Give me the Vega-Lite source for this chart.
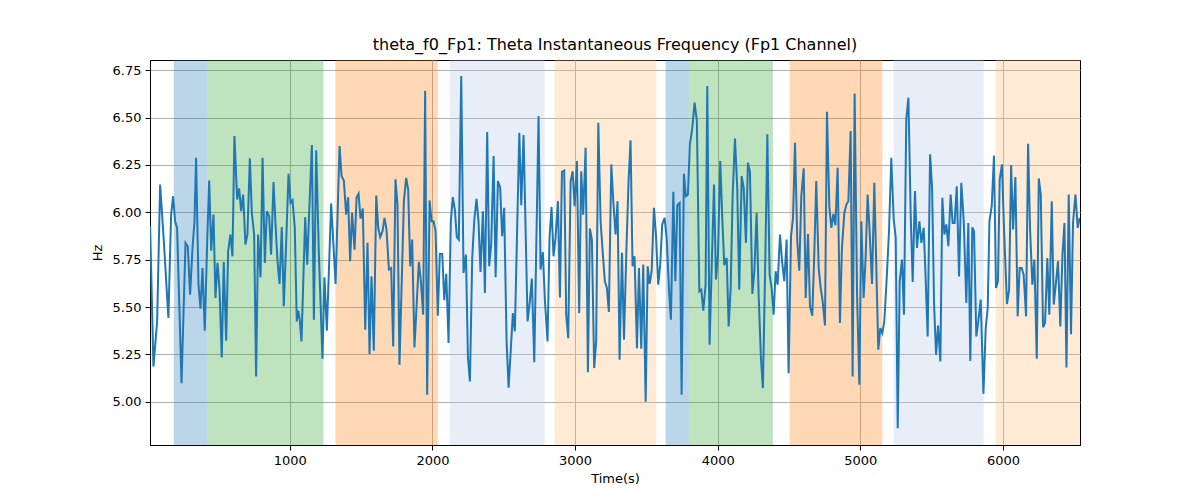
{
  "$schema": "https://vega.github.io/schema/vega-lite/v6.json",
  "width": 930,
  "height": 385,
  "autosize": "none",
  "padding": {"left": 150, "top": 60, "right": 120, "bottom": 55},
  "background": "white",
  "title": {"text": "theta_f0_Fp1: Theta Instantaneous Frequency (Fp1 Channel)", "fontSize": 16, "fontWeight": "normal", "font": "DejaVu Sans", "color": "#000", "offset": 7},
  "datasets": {
    "bands": [
      {"start": 187, "end": 421, "kind": "a"},
      {"start": 421, "end": 1236, "kind": "b"},
      {"start": 1320, "end": 2038, "kind": "c"},
      {"start": 2122, "end": 2786, "kind": "d"},
      {"start": 2856, "end": 3569, "kind": "e"},
      {"start": 3635, "end": 3798, "kind": "a"},
      {"start": 3798, "end": 4387, "kind": "b"},
      {"start": 4504, "end": 5154, "kind": "c"},
      {"start": 5233, "end": 5865, "kind": "d"},
      {"start": 5949, "end": 6540, "kind": "e"}
    ],
    "series": [
      {"t":21,"hz":5.927},{"t":44,"hz":5.186},{"t":70,"hz":5.424},{"t":91,"hz":6.147},{"t":117,"hz":5.847},{"t":149,"hz":5.442},{"t":168,"hz":5.988},{"t":182,"hz":6.085},{"t":196,"hz":5.953},{"t":210,"hz":5.918},{"t":241,"hz":5.098},{"t":269,"hz":5.839},{"t":285,"hz":5.821},{"t":301,"hz":5.565},{"t":318,"hz":5.812},{"t":332,"hz":5.953},{"t":343,"hz":6.288},{"t":360,"hz":5.618},{"t":374,"hz":5.491},{"t":388,"hz":5.706},{"t":404,"hz":5.375},{"t":421,"hz":5.847},{"t":435,"hz":6.168},{"t":449,"hz":5.798},{"t":465,"hz":5.988},{"t":479,"hz":5.548},{"t":493,"hz":5.733},{"t":507,"hz":5.601},{"t":523,"hz":5.234},{"t":537,"hz":5.738},{"t":554,"hz":5.322},{"t":568,"hz":5.795},{"t":584,"hz":5.883},{"t":598,"hz":5.768},{"t":612,"hz":6.403},{"t":631,"hz":6.068},{"t":645,"hz":6.126},{"t":659,"hz":6.006},{"t":673,"hz":6.094},{"t":689,"hz":5.830},{"t":703,"hz":5.883},{"t":720,"hz":6.285},{"t":734,"hz":5.997},{"t":750,"hz":5.883},{"t":764,"hz":5.134},{"t":778,"hz":5.883},{"t":795,"hz":5.657},{"t":809,"hz":6.288},{"t":825,"hz":5.733},{"t":839,"hz":6.006},{"t":855,"hz":5.980},{"t":869,"hz":5.777},{"t":886,"hz":6.160},{"t":900,"hz":5.936},{"t":914,"hz":5.742},{"t":928,"hz":5.622},{"t":944,"hz":5.923},{"t":958,"hz":5.504},{"t":975,"hz":5.847},{"t":991,"hz":6.204},{"t":1005,"hz":6.050},{"t":1019,"hz":6.064},{"t":1035,"hz":5.918},{"t":1049,"hz":5.424},{"t":1059,"hz":5.481},{"t":1070,"hz":5.433},{"t":1082,"hz":5.319},
      {"t":1108,"hz":5.974},{"t":1122,"hz":5.724},{"t":1138,"hz":6.041},{"t":1155,"hz":6.355},{"t":1169,"hz":5.433},{"t":1185,"hz":6.327},{"t":1204,"hz":5.777},{"t":1229,"hz":5.227},{"t":1243,"hz":5.657},{"t":1260,"hz":5.375},{"t":1290,"hz":6.047},{"t":1321,"hz":5.622},{"t":1349,"hz":6.350},{"t":1363,"hz":6.191},{"t":1379,"hz":6.168},{"t":1395,"hz":5.988},{"t":1409,"hz":6.080},{"t":1423,"hz":5.742},{"t":1437,"hz":5.997},{"t":1454,"hz":5.803},{"t":1468,"hz":6.077},{"t":1482,"hz":6.098},{"t":1496,"hz":5.967},{"t":1512,"hz":6.020},{"t":1529,"hz":5.380},{"t":1545,"hz":5.839},{"t":1559,"hz":5.253},{"t":1573,"hz":5.662},{"t":1589,"hz":5.269},{"t":1606,"hz":6.089},{"t":1620,"hz":5.918},{"t":1634,"hz":5.869},{"t":1650,"hz":5.900},{"t":1664,"hz":5.971},{"t":1678,"hz":5.909},{"t":1695,"hz":5.698},{"t":1711,"hz":5.706},{"t":1725,"hz":5.292},{"t":1741,"hz":6.174},{"t":1755,"hz":6.041},{"t":1769,"hz":5.195},{"t":1800,"hz":6.059},{"t":1816,"hz":6.182},{"t":1830,"hz":6.121},{"t":1844,"hz":5.715},{"t":1858,"hz":5.856},{"t":1874,"hz":5.287},{"t":1905,"hz":5.738},{"t":1919,"hz":5.636},{"t":1935,"hz":5.460},{"t":1949,"hz":6.641},{"t":1963,"hz":5.037},{"t":1980,"hz":6.063},{"t":1994,"hz":5.953},{"t":2008,"hz":5.953},{"t":2022,"hz":5.900},{"t":2038,"hz":5.454},{"t":2052,"hz":5.780},{"t":2069,"hz":5.780},{"t":2083,"hz":5.536},{"t":2097,"hz":5.676},{"t":2113,"hz":5.310},{"t":2129,"hz":5.953},{"t":2143,"hz":6.080},{"t":2157,"hz":6.015},{"t":2171,"hz":5.869},{"t":2185,"hz":5.856},
      {"t":2202,"hz":6.720},{"t":2218,"hz":5.680},{"t":2235,"hz":5.777},{"t":2249,"hz":5.231},{"t":2263,"hz":5.107},{"t":2279,"hz":5.759},{"t":2293,"hz":5.953},{"t":2309,"hz":6.071},{"t":2323,"hz":5.953},{"t":2337,"hz":5.685},{"t":2354,"hz":6.006},{"t":2368,"hz":5.574},{"t":2384,"hz":6.424},{"t":2398,"hz":5.715},{"t":2412,"hz":5.830},{"t":2429,"hz":6.297},{"t":2443,"hz":5.657},{"t":2459,"hz":6.165},{"t":2475,"hz":6.130},{"t":2489,"hz":5.874},{"t":2503,"hz":6.024},{"t":2520,"hz":5.319},{"t":2534,"hz":5.075},{"t":2564,"hz":5.468},{"t":2578,"hz":5.372},{"t":2609,"hz":6.420},{"t":2623,"hz":6.038},{"t":2639,"hz":6.408},{"t":2667,"hz":5.424},{"t":2683,"hz":5.530},{"t":2697,"hz":5.650},{"t":2714,"hz":5.209},{"t":2744,"hz":6.509},{"t":2758,"hz":5.698},{"t":2774,"hz":5.791},{"t":2789,"hz":5.530},{"t":2807,"hz":5.319},{"t":2821,"hz":5.865},{"t":2835,"hz":6.029},{"t":2849,"hz":5.768},{"t":2863,"hz":5.865},{"t":2880,"hz":6.059},{"t":2894,"hz":5.551},{"t":2908,"hz":6.214},{"t":2924,"hz":6.221},{"t":2938,"hz":5.460},{"t":2952,"hz":5.336},{"t":2969,"hz":6.165},{"t":2983,"hz":6.217},{"t":2997,"hz":6.033},{"t":3013,"hz":6.271},{"t":3029,"hz":5.468},{"t":3043,"hz":6.217},{"t":3057,"hz":5.988},{"t":3074,"hz":6.341},{"t":3090,"hz":5.156},{"t":3104,"hz":5.914},{"t":3118,"hz":5.856},{"t":3134,"hz":5.178},{"t":3148,"hz":5.319},{"t":3163,"hz":6.473},{"t":3179,"hz":5.953},{"t":3195,"hz":5.777},{"t":3209,"hz":5.636},{"t":3223,"hz":5.601},{"t":3237,"hz":5.474},{"t":3254,"hz":6.253},{"t":3268,"hz":6.059},
      {"t":3284,"hz":5.883},{"t":3298,"hz":6.059},{"t":3312,"hz":5.222},{"t":3329,"hz":5.786},{"t":3343,"hz":5.327},{"t":3359,"hz":5.777},{"t":3375,"hz":6.165},{"t":3389,"hz":6.380},{"t":3403,"hz":5.715},{"t":3417,"hz":5.768},{"t":3434,"hz":5.283},{"t":3448,"hz":5.706},{"t":3464,"hz":5.280},{"t":3478,"hz":5.724},{"t":3495,"hz":5.001},{"t":3509,"hz":5.715},{"t":3523,"hz":5.622},{"t":3537,"hz":5.689},{"t":3553,"hz":6.024},{"t":3567,"hz":5.883},{"t":3583,"hz":5.618},{"t":3597,"hz":5.724},{"t":3611,"hz":5.936},{"t":3628,"hz":5.971},{"t":3642,"hz":5.865},{"t":3658,"hz":5.601},{"t":3672,"hz":5.433},{"t":3689,"hz":6.108},{"t":3703,"hz":5.636},{"t":3717,"hz":6.038},{"t":3733,"hz":6.050},{"t":3747,"hz":5.037},{"t":3763,"hz":6.204},{"t":3777,"hz":6.085},{"t":3791,"hz":6.094},{"t":3805,"hz":6.359},{"t":3822,"hz":6.447},{"t":3838,"hz":6.579},{"t":3854,"hz":6.482},{"t":3871,"hz":5.583},{"t":3885,"hz":5.592},{"t":3899,"hz":5.481},{"t":3915,"hz":5.618},{"t":3927,"hz":6.667},{"t":3943,"hz":5.301},{"t":3974,"hz":6.147},{"t":3988,"hz":5.645},{"t":4002,"hz":5.777},{"t":4018,"hz":6.271},{"t":4032,"hz":5.971},{"t":4046,"hz":5.721},{"t":4063,"hz":5.759},{"t":4077,"hz":5.398},{"t":4091,"hz":5.601},{"t":4105,"hz":6.094},{"t":4121,"hz":6.390},{"t":4137,"hz":6.130},{"t":4151,"hz":5.592},{"t":4168,"hz":6.191},{"t":4182,"hz":6.130},{"t":4198,"hz":5.839},{"t":4212,"hz":6.262},{"t":4226,"hz":6.214},{"t":4243,"hz":5.569},{"t":4257,"hz":5.689},{"t":4273,"hz":5.997},{"t":4287,"hz":5.565},{"t":4303,"hz":5.231},{"t":4317,"hz":5.072},{"t":4334,"hz":5.759},{"t":4348,"hz":6.412},{"t":4364,"hz":5.671},
      {"t":4378,"hz":5.601},{"t":4392,"hz":5.460},{"t":4406,"hz":5.689},{"t":4420,"hz":5.618},{"t":4437,"hz":5.883},{"t":4451,"hz":5.742},{"t":4467,"hz":5.636},{"t":4483,"hz":5.856},{"t":4497,"hz":5.151},{"t":4514,"hz":5.874},{"t":4528,"hz":5.971},{"t":4542,"hz":6.367},{"t":4558,"hz":5.847},{"t":4572,"hz":5.692},{"t":4586,"hz":6.085},{"t":4603,"hz":6.232},{"t":4617,"hz":5.548},{"t":4633,"hz":5.886},{"t":4647,"hz":5.504},{"t":4663,"hz":5.454},{"t":4677,"hz":5.777},{"t":4691,"hz":6.165},{"t":4708,"hz":5.706},{"t":4722,"hz":5.601},{"t":4736,"hz":5.530},{"t":4752,"hz":5.403},{"t":4766,"hz":6.531},{"t":4783,"hz":6.024},{"t":4797,"hz":5.918},{"t":4811,"hz":5.992},{"t":4825,"hz":5.932},{"t":4841,"hz":6.235},{"t":4857,"hz":5.416},{"t":4871,"hz":5.812},{"t":4888,"hz":5.997},{"t":4902,"hz":6.041},{"t":4916,"hz":6.059},{"t":4932,"hz":6.429},{"t":4946,"hz":5.134},{"t":4960,"hz":6.627},{"t":4977,"hz":5.565},{"t":4993,"hz":5.090},{"t":5007,"hz":5.953},{"t":5023,"hz":5.548},{"t":5037,"hz":5.759},{"t":5051,"hz":6.094},{"t":5065,"hz":5.900},{"t":5082,"hz":5.622},{"t":5098,"hz":6.156},{"t":5112,"hz":5.706},{"t":5126,"hz":5.275},{"t":5140,"hz":5.389},{"t":5154,"hz":5.363},{"t":5168,"hz":5.424},{"t":5185,"hz":5.654},{"t":5201,"hz":5.900},{"t":5217,"hz":6.288},{"t":5234,"hz":5.962},{"t":5248,"hz":5.865},{"t":5262,"hz":4.860},{"t":5276,"hz":5.636},{"t":5292,"hz":5.751},{"t":5306,"hz":5.460},{"t":5322,"hz":6.491},{"t":5337,"hz":6.605},{"t":5353,"hz":5.988},{"t":5367,"hz":5.632},{"t":5383,"hz":6.112},{"t":5397,"hz":5.812},{"t":5414,"hz":5.953},{"t":5428,"hz":5.839},{"t":5444,"hz":5.918},
      {"t":5456,"hz":5.689},{"t":5472,"hz":5.345},{"t":5489,"hz":6.306},{"t":5503,"hz":6.130},{"t":5517,"hz":5.513},{"t":5531,"hz":5.248},{"t":5545,"hz":5.403},{"t":5561,"hz":5.213},{"t":5575,"hz":6.077},{"t":5589,"hz":5.883},{"t":5603,"hz":5.936},{"t":5617,"hz":5.821},{"t":5633,"hz":6.094},{"t":5647,"hz":5.944},{"t":5661,"hz":5.944},{"t":5676,"hz":6.138},{"t":5692,"hz":5.662},{"t":5708,"hz":6.156},{"t":5725,"hz":5.953},{"t":5743,"hz":5.521},{"t":5757,"hz":5.944},{"t":5771,"hz":5.216},{"t":5785,"hz":5.921},{"t":5797,"hz":5.900},{"t":5813,"hz":5.345},{"t":5827,"hz":5.424},{"t":5844,"hz":5.539},{"t":5863,"hz":5.042},{"t":5879,"hz":5.389},{"t":5893,"hz":5.495},{"t":5905,"hz":5.953},{"t":5921,"hz":6.033},{"t":5937,"hz":6.300},{"t":5951,"hz":5.601},{"t":5965,"hz":5.636},{"t":5977,"hz":6.174},{"t":5993,"hz":6.253},{"t":6007,"hz":5.918},{"t":6028,"hz":5.516},{"t":6043,"hz":5.592},{"t":6057,"hz":6.249},{"t":6071,"hz":5.909},{"t":6087,"hz":6.186},{"t":6103,"hz":5.451},{"t":6117,"hz":5.706},{"t":6131,"hz":5.706},{"t":6145,"hz":5.671},{"t":6162,"hz":5.451},{"t":6176,"hz":6.362},{"t":6190,"hz":5.909},{"t":6206,"hz":5.618},{"t":6220,"hz":5.751},{"t":6237,"hz":5.227},{"t":6251,"hz":6.179},{"t":6265,"hz":6.094},{"t":6281,"hz":5.393},{"t":6295,"hz":5.416},{"t":6311,"hz":5.759},{"t":6325,"hz":5.460},{"t":6342,"hz":6.059},{"t":6356,"hz":5.513},{"t":6370,"hz":5.618},{"t":6386,"hz":5.742},{"t":6402,"hz":5.398},{"t":6417,"hz":5.777},{"t":6431,"hz":5.944},{"t":6445,"hz":5.181},{"t":6461,"hz":6.094},{"t":6477,"hz":5.357},{"t":6491,"hz":5.944},{"t":6508,"hz":6.094},{"t":6524,"hz":5.918},{"t":6538,"hz":5.971}
    ]
  },
  "layer": [
    {
      "data": {"name": "bands"},
      "mark": {"type": "rect", "opacity": 0.3},
      "encoding": {
        "x": {"field": "start", "type": "quantitative"},
        "x2": {"field": "end"},
        "color": {
          "field": "kind",
          "type": "nominal",
          "scale": {"domain": ["a", "b", "c", "d", "e"], "range": ["#1f77b4", "#2ca02c", "#ff7f0e", "#aec7e8", "#ffbb78"]},
          "legend": null
        }
      }
    },
    {
      "data": {"name": "series"},
      "mark": {"type": "line", "color": "#1f77b4", "strokeWidth": 2, "clip": true},
      "encoding": {
        "x": {
          "field": "t",
          "type": "quantitative",
          "title": "Time(s)",
          "scale": {"domain": [20, 6540], "nice": false, "zero": false},
          "axis": {"values": [1000, 2000, 3000, 4000, 5000, 6000], "format": "d"}
        },
        "y": {
          "field": "hz",
          "type": "quantitative",
          "title": "Hz",
          "scale": {"domain": [4.772, 6.804], "nice": false, "zero": false},
          "axis": {"values": [5.0, 5.25, 5.5, 5.75, 6.0, 6.25, 6.5, 6.75], "format": ".2f"}
        }
      }
    }
  ],
  "config": {
    "font": "DejaVu Sans",
    "view": {"stroke": "#000", "strokeWidth": 1},
    "axis": {
      "grid": true,
      "gridColor": "#b0b0b0",
      "gridWidth": 1,
      "domainColor": "#000",
      "tickColor": "#000",
      "tickSize": 5,
      "labelFont": "DejaVu Sans",
      "labelFontSize": 13,
      "labelColor": "#000",
      "labelPadding": 4,
      "titleFont": "DejaVu Sans",
      "titleFontSize": 13,
      "titleFontWeight": "normal",
      "titleColor": "#000"
    },
    "axisX": {"titlePadding": 5},
    "axisY": {"titlePadding": 8}
  }
}
